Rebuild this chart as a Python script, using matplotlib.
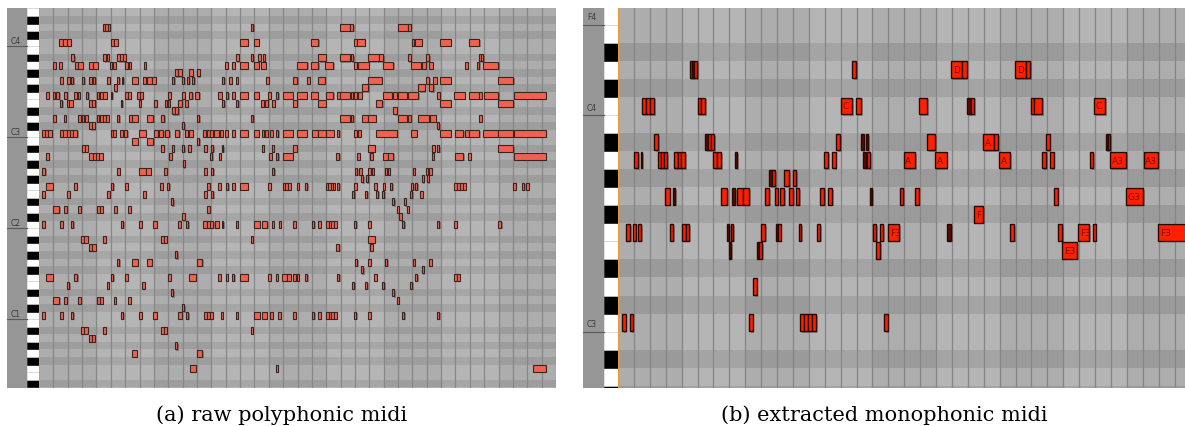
import numpy as np
import matplotlib
matplotlib.use("Agg")
import matplotlib.pyplot as plt
import matplotlib.patheffects as pe

# ---------------- (a) raw polyphonic midi : (start, end) in grid cells per pitch ----------------
poly_D4 = [(4.46,4.62),(4.62,4.78),(4.78,4.94),(14.74,14.92),(20.96,21.66),(21.66,21.89),(24.98,25.68),(25.68,25.91)]
poly_C4 = [(1.41,1.69),(1.69,1.97),(1.97,2.23),(4.99,5.22),(5.22,5.48),(14.0,14.53),(14.99,15.32),(18.94,19.45),
           (21.94,22.12),(22.17,22.70),(25.95,26.14),(26.18,26.65),(27.92,28.67),(29.97,30.66)]
poly_As3 = [(2.23,2.46),(4.48,4.64),(4.71,4.87),(5.45,5.64),(5.64,5.83),(5.83,6.04),(13.70,13.93),(14.74,14.92),
            (15.27,15.46),(15.58,15.74),(19.45,19.97),(20.96,21.66),(21.73,21.89),(22.93,23.70),(23.70,23.98),
            (25.68,25.91),(26.95,27.18),(30.64,30.78),(30.78,30.94)]
poly_A3 = [(1.0,1.18),(1.41,1.58),(2.51,2.70),(2.74,3.04),(3.50,3.78),(3.78,4.09),(4.94,5.10),(5.17,5.34),(5.99,6.18),
           (6.29,6.41),(7.31,7.45),(12.95,13.14),(13.46,13.65),(14.0,14.53),(14.99,15.32),(15.46,15.79),(17.94,18.69),
           (18.94,19.45),(19.92,20.49),(21.94,22.12),(22.20,22.98),(23.98,24.67),(25.91,26.60),(26.69,26.93),
           (27.16,27.42),(29.67,29.85),(30.48,30.66),(30.94,31.99)]
poly_Gs3 = [(9.47,9.70),(9.70,9.94),(10.47,10.70),(10.98,11.21)]
poly_G3 = [(1.46,1.65),(1.93,2.16),(2.21,2.39),(2.97,3.15),(3.50,3.69),(3.74,3.92),(4.76,4.94),(5.45,5.59),(5.76,5.87),
           (6.46,6.87),(7.22,7.45),(7.50,7.85),(7.85,8.15),(9.24,9.42),(9.94,10.12),(10.29,10.47),(10.63,10.81),
           (12.72,12.90),(13.23,13.42),(13.70,13.84),(15.81,16.0),(17.71,17.99),(18.68,18.87),(19.45,19.92),
           (22.93,23.86),(26.95,27.18),(27.46,27.69),(27.92,28.67),(31.98,33.03)]
poly_Fs3 = [(5.22,5.41),(22.47,22.93),(26.41,26.88),(27.18,27.46)]
poly_F3 = [(0.47,0.68),(0.95,1.11),(1.18,1.41),(1.76,1.93),(2.44,2.63),(2.70,2.86),(3.25,3.43),(4.02,4.20),(4.25,4.44),
           (4.48,4.71),(5.01,5.10),(5.99,6.18),(6.22,6.41),(6.85,7.03),(7.03,7.22),(9.0,9.19),(9.94,10.17),(10.47,10.68),
           (10.86,11.16),(12.49,12.72),(13.0,13.18),(13.46,13.65),(14.0,14.53),(14.99,15.32),(15.97,16.16),(16.50,16.66),
           (17.01,17.67),(17.94,18.64),(18.92,19.41),(19.99,20.49),(20.73,20.96),(20.96,21.66),(21.73,21.89),
           (21.94,22.17),(22.24,22.47),(23.93,24.56),(24.67,24.91),(24.98,25.61),(25.68,26.41),(27.69,27.92),
           (28.92,29.67),(29.94,30.66),(30.66,30.83),(30.99,31.98),(33.10,35.31)]
poly_E3 = [(1.46,1.62),(1.93,2.09),(2.09,2.35),(3.50,3.71),(3.71,3.92),(5.69,5.80),(6.96,7.08),(8.03,8.20),(8.77,8.89),
           (9.0,9.12),(9.70,9.94),(10.17,10.36),(12.72,12.90),(13.70,13.88),(15.46,15.69),(15.74,15.93),(16.20,16.43),
           (17.71,17.94),(19.45,19.97),(23.47,23.91),(27.92,28.67),(31.98,33.03)]
poly_Ds3 = [(9.24,9.47),(9.47,9.70),(24.67,24.91)]
poly_D3 = [(1.0,1.16),(1.74,1.88),(2.74,2.92),(2.97,3.15),(3.20,3.39),(4.02,4.20),(4.25,4.44),(4.48,4.67),(4.67,4.85),
           (5.45,5.59),(6.27,6.46),(6.46,6.87),(7.50,7.96),(8.50,8.72),(10.98,11.16),(14.74,14.92),(20.96,21.66),
           (21.73,21.89),(22.47,22.93),(22.93,23.47),(24.98,25.61),(25.72,25.91),(26.41,27.18),(27.23,27.65),(30.64,30.83)]
poly_Cs3 = [(3.50,3.69),(3.69,3.90),(9.98,10.12),(27.69,27.88)]
poly_C3 = [(0.23,0.44),(0.44,0.65),(0.65,0.88),(1.46,1.69),(1.69,1.93),(1.93,2.16),(2.16,2.39),(2.39,2.67),(4.99,5.17),
           (5.17,5.36),(5.64,5.83),(5.92,6.15),(6.98,7.43),(8.01,8.31),(8.38,8.66),(8.77,9.07),(9.47,9.77),(10.17,10.36),
           (10.47,10.70),(11.44,11.63),(11.68,11.91),(11.91,12.14),(12.21,12.56),(12.60,12.79),(12.95,13.14),
           (13.46,13.65),(14.0,14.53),(14.99,15.32),(15.51,15.69),(15.74,15.93),(16.09,16.27),(16.50,16.66),
           (17.01,17.67),(17.94,18.64),(18.99,19.41),(19.45,19.97),(19.99,20.54),(20.73,20.91),(21.94,22.17),
           (22.24,22.40),(23.47,24.91),(25.91,26.30),(27.92,28.67),(28.97,29.55),(29.67,29.97),(29.97,30.66),
           (30.94,31.98),(31.98,33.03),(33.10,35.31)]
poly_B2 = [(6.46,6.87),(7.50,7.96),(11.02,11.16)]
poly_As2 = [(2.97,3.18),(3.18,3.39),(8.50,8.68),(9.24,9.40),(9.94,10.12),(10.40,10.58),(11.49,11.68),(11.96,12.14),
            (12.72,12.83),(15.51,15.67),(16.20,16.36),(17.71,17.94),(22.93,23.40),(27.39,27.58),(27.69,27.88),(31.98,33.03)]
poly_A2 = [(0.49,0.68),(3.50,3.74),(3.74,3.97),(3.97,4.20),(4.20,4.44),(9.05,9.24),(11.91,12.07),(12.53,12.67),
           (16.04,16.23),(16.50,16.66),(16.97,17.67),(20.68,20.91),(22.17,22.35),(23.05,23.24),(23.93,24.28),
           (24.28,24.67),(27.35,27.51),(28.97,29.55),(29.90,30.06),(33.10,35.31)]
poly_Gs2 = [(10.01,10.17)]
poly_G2 = [(0.23,0.44),(5.45,5.64),(6.98,7.45),(7.45,7.80),(8.73,8.89),(11.49,11.68),(11.96,12.14),(16.20,16.39),
           (22.01,22.17),(22.28,22.47),(22.93,23.10),(23.17,23.33),(24.09,24.25),(24.32,24.44),(26.02,26.18),
           (26.93,27.11),(27.16,27.35)]
poly_Fs2 = [(22.42,22.58),(22.77,22.93),(26.65,26.81),(27.0,27.16)]
poly_F2 = [(0.49,0.95),(2.44,2.63),(5.01,5.17),(5.99,6.18),(8.43,8.61),(8.89,9.07),(11.72,11.91),(12.49,12.67),
           (13.0,13.18),(13.46,13.65),(14.0,14.53),(15.97,16.16),(16.97,17.15),(17.15,17.34),(17.34,17.53),
           (17.94,18.11),(18.52,18.68),(19.99,20.15),(20.15,20.31),(20.31,20.46),(20.46,20.61),(20.73,20.91),
           (21.94,22.12),(23.35,23.52),(23.93,24.09),(24.44,24.60),(25.91,26.07),(26.18,26.34),(28.92,29.12),
           (29.12,29.32),(29.32,29.53),(29.53,29.73),(33.03,33.22),(33.61,33.80),(33.91,34.10)]
poly_E2 = [(0.23,0.42),(1.97,2.16),(4.76,4.94),(7.22,7.43),(11.49,11.68),(11.96,12.14),(21.78,21.96),(22.70,22.86),
           (23.47,23.63),(23.86,24.05),(25.84,26.0),(26.53,26.72)]
poly_Ds2 = [(9.19,9.35),(24.60,24.75),(25.40,25.55)]
poly_D2 = [(1.0,1.41),(1.74,1.93),(2.74,2.92),(4.02,4.23),(4.23,4.44),(5.24,5.41),(6.22,6.41),(11.72,11.91),
           (24.90,25.05),(25.60,25.75)]
poly_Cs2 = [(9.98,10.17),(25.10,25.25)]
poly_C2 = [(0.23,0.42),(1.46,1.65),(2.21,2.39),(5.69,5.87),(6.96,7.15),(7.96,8.20),(9.70,9.89),(10.22,10.40),
           (11.44,11.68),(11.68,11.91),(11.91,12.14),(12.26,12.53),(12.72,12.83),(13.70,13.84),(14.97,15.39),
           (15.51,15.90),(16.20,16.36),(16.71,16.85),(17.71,17.88),(18.99,19.17),(19.45,19.62),(20.00,20.18),
           (20.18,20.36),(20.36,20.54),(20.54,20.72),(21.94,22.10),(22.93,23.10),(25.25,25.45),(27.69,27.88),
           (28.92,29.10),(31.98,32.20)]
poly_As1 = [(2.92,3.15),(3.15,3.39),(4.48,4.67),(8.47,8.68),(8.68,8.89),(14.74,14.88),(22.93,23.40)]
poly_A1 = [(3.48,3.71),(3.71,3.95),(20.68,20.91),(23.05,23.24)]
poly_Gs1 = [(9.47,9.63)]
poly_G1 = [(5.45,5.59),(6.50,6.87),(7.50,7.85),(10.98,11.37),(22.01,22.17),(22.93,23.10),(24.09,24.25),
           (26.02,26.18),(27.16,27.35)]
poly_Fs1 = [(22.42,22.58),(26.65,26.81)]
poly_F1 = [(0.49,0.95),(2.44,2.67),(4.99,5.17),(5.99,6.18),(9.0,9.17),(10.47,10.91),(12.49,12.65),(13.0,13.14),
           (13.46,13.60),(14.0,14.53),(15.97,16.16),(16.48,16.62),(16.94,17.27),(17.27,17.55),(17.71,17.88),
           (17.94,18.11),(18.52,18.68),(20.73,20.91),(23.35,23.52),(26.18,26.34),(28.92,29.12),(29.12,29.32)]
poly_E1 = [(1.93,2.11),(4.71,4.87),(7.19,7.38),(21.78,21.96),(22.70,22.86),(23.86,24.05),(25.84,26.0)]
poly_Ds1 = [(9.19,9.35),(24.60,24.75)]
poly_D1 = [(1.0,1.41),(1.74,1.93),(2.74,2.90),(4.02,4.23),(4.23,4.44),(5.22,5.36),(6.22,6.41),(24.90,25.05)]
poly_Cs1 = [(9.98,10.12)]
poly_C1 = [(0.23,0.42),(1.46,1.65),(2.21,2.39),(5.69,5.87),(6.96,7.15),(7.96,8.20),(9.70,9.94),(10.22,10.40),
           (11.49,11.70),(11.70,11.91),(11.91,12.10),(12.65,12.79),(13.70,13.84),(14.97,15.39),(15.51,15.86),
           (16.09,16.27),(16.66,16.85),(17.71,17.88),(18.99,19.17),(19.45,19.62),(20.00,20.18),(20.18,20.36),
           (20.36,20.54),(20.54,20.72),(21.94,22.10),(22.93,23.10),(25.25,25.45),(27.69,27.88)]
poly_As0 = [(2.92,3.15),(3.15,3.39),(4.48,4.67),(8.47,8.68),(8.68,8.89),(14.74,14.88)]
poly_A0 = [(3.48,3.69),(3.69,3.90)]
poly_Gs0 = [(9.47,9.63)]
poly_G0 = [(6.50,6.80),(10.98,11.37)]
poly_F0 = [(10.52,10.91),(16.50,16.62),(34.40,35.30)]

POLY = {62: poly_D4, 60: poly_C4, 58: poly_As3, 57: poly_A3, 56: poly_Gs3, 55: poly_G3, 54: poly_Fs3, 53: poly_F3,
        52: poly_E3, 51: poly_Ds3, 50: poly_D3, 49: poly_Cs3, 48: poly_C3, 47: poly_B2, 46: poly_As2, 45: poly_A2,
        44: poly_Gs2, 43: poly_G2, 42: poly_Fs2, 41: poly_F2, 40: poly_E2, 39: poly_Ds2, 38: poly_D2, 37: poly_Cs2,
        36: poly_C2, 34: poly_As1, 33: poly_A1, 32: poly_Gs1, 31: poly_G1, 30: poly_Fs1, 29: poly_F1, 28: poly_E1,
        27: poly_Ds1, 26: poly_D1, 25: poly_Cs1, 24: poly_C1, 22: poly_As0, 21: poly_A0, 20: poly_Gs0, 19: poly_G0,
        17: poly_F0}

# ---------------- (b) extracted monophonic midi : (start, end, tag) tag: ''=plain, 'd'=dark, else label ----------------
mono_D4 = [(4.50,4.65,''),(4.65,4.81,'d'),(4.81,4.97,''),(14.74,14.95,''),(20.96,21.65,'D'),(21.65,21.93,''),
           (24.99,25.66,'D'),(25.66,25.93,'')]
mono_C4 = [(1.49,1.74,''),(1.74,1.99,''),(1.99,2.26,''),(5.01,5.24,''),(5.24,5.47,''),(14.01,14.72,'C'),(14.97,15.28,''),
           (18.95,19.43,''),(21.97,22.18,'d'),(22.18,22.41,''),(25.97,26.19,''),(26.19,26.65,''),(29.96,30.63,'C')]
mono_As3 = [(2.26,2.50,''),(5.47,5.64,'d'),(5.64,5.87,''),(5.87,6.04,''),(13.71,13.98,''),(15.30,15.45,'d'),
            (15.60,15.72,'d'),(19.45,19.94,''),(22.96,23.67,'A'),(23.67,23.92,''),(26.92,27.15,''),(30.67,30.79,'d'),
            (30.79,30.96,'')]
mono_A3 = [(1.01,1.24,''),(1.43,1.53,'d'),(2.52,2.70,''),(2.70,2.89,''),(2.89,3.08,''),(3.50,3.75,''),(3.75,3.98,''),
           (3.98,4.23,''),(5.99,6.23,''),(6.23,6.48,''),(7.36,7.48,'d'),(12.96,13.19,''),(13.46,13.69,''),
           (15.43,15.58,'d'),(15.68,15.83,''),(17.97,18.68,'A'),(19.94,20.67,'A'),(23.98,24.65,'A'),(26.67,26.90,''),
           (27.17,27.40,''),(29.69,29.87,''),(30.96,31.95,'A3'),(33.06,33.94,'A3')]
mono_Gs3 = [(9.50,9.70,'d'),(9.70,9.87,''),(10.44,10.74,''),(10.99,11.19,'')]
mono_G3 = [(2.96,3.25,''),(3.44,3.57,'d'),(6.46,6.84,''),(7.19,7.34,'d'),(7.48,7.84,''),(7.84,8.24,''),(9.25,9.48,''),
           (9.89,10.04,''),(10.21,10.44,''),(10.75,11.01,''),(11.21,11.38,''),(12.72,12.94,''),(13.21,13.46,''),
           (15.83,15.96,'d'),(17.72,17.91,''),(18.70,18.91,''),(27.42,27.65,''),(31.97,33.04,'G3')]
mono_Fs3 = [(22.41,22.94,'F')]
mono_F3 = [(0.48,0.77,''),(0.94,1.11,''),(1.24,1.43,''),(3.25,3.46,''),(4.03,4.25,''),(4.25,4.47,''),(6.84,6.98,'d'),
           (7.11,7.26,''),(8.99,9.23,''),(9.94,10.06,'d'),(10.06,10.23,''),(11.40,11.53,''),(12.50,12.69,''),
           (16.02,16.23,''),(16.48,16.69,''),(17.00,17.69,'F3'),(20.67,20.94,'d'),(24.67,24.92,''),(27.69,27.91,''),
           (28.95,29.64,'F3'),(29.89,30.04,''),(33.98,35.80,'F3')]
mono_E3 = [(6.98,7.11,'d'),(8.72,8.87,'d'),(8.87,9.04,''),(16.21,16.46,''),(27.94,28.89,'E3')]
mono_D3 = [(8.49,8.72,'')]
mono_C3 = [(0.25,0.48,''),(0.75,0.92,''),(8.24,8.47,''),(11.47,11.72,''),(11.72,11.97,''),(11.97,12.22,''),
           (12.22,12.47,''),(16.75,16.96,'')]

MONO = {62: mono_D4, 60: mono_C4, 58: mono_As3, 57: mono_A3, 56: mono_Gs3, 55: mono_G3, 54: mono_Fs3,
        53: mono_F3, 52: mono_E3, 50: mono_D3, 48: mono_C3}

poly_labels = [("C4", 60), ("C3", 48), ("C2", 36), ("C1", 24)]
mono_labels = [("F4", 65), ("C4", 60), ("C3", 48)]
captions = ["(a) raw polyphonic midi", "(b) extracted monophonic midi"]

# ---------------- drawing ----------------
W, H = 1185, 427
fig = plt.figure(figsize=(W / 100, H / 100), dpi=100)
fig.patch.set_facecolor("white")
BLACK_KEYS = {1, 3, 6, 8, 10}


def axes_px(x0, y0, x1, y1):
    ax = fig.add_axes([x0 / W, 1 - y1 / H, (x1 - x0) / W, (y1 - y0) / H])
    ax.set_axis_off()
    return ax


def draw_roll(ax, lo, hi, xmax, light, dark, grid_color, band_alpha):
    ax.set_xlim(0, xmax)
    ax.set_ylim(lo, hi)
    for p in range(int(np.floor(lo)), int(np.ceil(hi))):
        ax.axhspan(p, p + 1, color=dark if p % 12 in BLACK_KEYS else light, lw=0, zorder=0)
    for c in range(4, int(np.ceil(xmax)), 8):
        ax.axvspan(c, c + 4, color="white", alpha=band_alpha, lw=0, zorder=0.5)
    for c in range(1, int(np.ceil(xmax)) + 1):
        ax.axvline(c, color=grid_color, lw=0.9, zorder=1)
    ax.axvline(0, color="#e8973a", lw=1.6, zorder=6)


def draw_keys(ax, lo, hi, kx, strip, labels, fs):
    ax.set_xlim(0, 1)
    ax.set_ylim(lo, hi)
    ax.axvspan(0, kx, color=strip, lw=0)
    for p in range(int(np.floor(lo)), int(np.ceil(hi))):
        blk = p % 12 in BLACK_KEYS
        ax.bar(kx, 1, width=1 - kx, bottom=p, align="edge",
               color="black" if blk else "white", edgecolor="#c8c8c8" if not blk else "black", lw=0.4)
    for name, p in labels:
        ax.plot([0, kx], [p, p], color="#5a5a5a", lw=0.8)
        ax.text(0.12 * kx / 0.62, p + 0.18, name, fontsize=fs, color="#3a3a3a", va="bottom", ha="left")


def draw_notes(ax, rows, face, dark_face, edge, lw, shadow, label_fs, text_color):
    for pitch, notes in rows.items():
        for note in notes:
            s, e = note[0], note[1]
            tag = note[2] if len(note) > 2 else ""
            fc = dark_face if tag == "d" else face
            ax.bar(s, 0.92, width=e - s, bottom=pitch + 0.04, align="edge", color=fc, edgecolor=edge,
                   lw=lw, zorder=3,
                   path_effects=[pe.withSimplePatchShadow(offset=shadow, shadow_rgbFace="#444444", alpha=0.45)])
            if tag not in ("", "d"):
                ax.text(s + 0.1, pitch + 0.5, tag, fontsize=label_fs, color=text_color, va="center",
                        ha="left", zorder=4)


# panel (a)
lo_a, hi_a = 14.92, 65.05
ax_a = axes_px(39, 9, 556, 389)
draw_roll(ax_a, lo_a, hi_a, 36, "#adadad", "#9d9d9d", "#878787", 0.10)
draw_notes(ax_a, POLY, "#f0624f", "#a02818", "#3a2420", 0.8, (1.0, -1.0), 5, "#600")
keys_a = axes_px(7, 9, 39, 389)
draw_keys(keys_a, lo_a, hi_a, 0.625, "#969696", poly_labels, 5.5)

# panel (b)
lo_b, hi_b = 44.88, 65.92
ax_b = axes_px(618, 9, 1185, 389)
draw_roll(ax_b, lo_b, hi_b, 35.66, "#adadad", "#9a9a9a", "#858585", 0.10)
draw_notes(ax_b, MONO, "#ff2000", "#5a0c00", "#2a0800", 1.0, (1.3, -1.3), 6.5, "#7a1208")
keys_b = axes_px(583, 9, 618, 389)
draw_keys(keys_b, lo_b, hi_b, 0.6, "#969696", mono_labels, 5.5)

fig.text(281.5 / W, 1 - 421.5 / H, captions[0], ha="center", va="baseline", family="DejaVu Serif", fontsize=15)
fig.text(884 / W, 1 - 421.5 / H, captions[1], ha="center", va="baseline", family="DejaVu Serif", fontsize=15)

fig.savefig("out.png", dpi=100, facecolor="white")
